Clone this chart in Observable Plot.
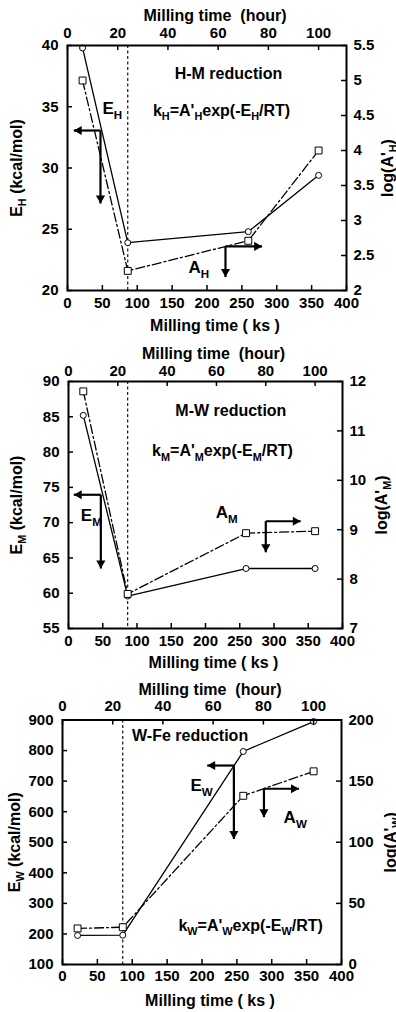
<!DOCTYPE html>
<html><head><meta charset="utf-8">
<script src="https://cdn.jsdelivr.net/npm/d3@7"></script>
<script src="https://cdn.jsdelivr.net/npm/@observablehq/plot@0.6"></script>
<style>
html,body{margin:0;padding:0;background:#fff;}
#wrap{position:relative;width:396px;height:1012px;overflow:hidden;background:#fff;}
.panel{position:absolute;left:0;}
svg{display:block;}
</style></head><body><div id="wrap"></div>
<script>
// ---- data ----
const ks = [21.6, 86.4, 259.2, 360];          // milling time (ks) = 6, 24, 72, 100 h
const cutKs = 86.4;                              // 24 h
const ksTicks = [0, 50, 100, 150, 200, 250, 300, 350, 400];
const hourTicks = [0, 20, 40, 60, 80, 100];

const E_H = [39.8, 23.9, 24.8, 29.4];
const A_H = [5.0, 2.28, 2.71, 4.0];
const E_M = [85.2, 59.6, 63.5, 63.5];
const A_M = [11.8, 7.7, 8.93, 8.97];
const E_W = [195, 196, 797, 895];
const A_W = [29.5, 30.5, 138, 158];

const leftTicksH = [20, 25, 30, 35, 40];
const rightTicksH = [2, 2.5, 3, 3.5, 4, 4.5, 5, 5.5];
const leftTicksM = [55, 60, 65, 70, 75, 80, 85, 90];
const rightTicksM = [7, 8, 9, 10, 11, 12];
const leftTicksW = [100, 200, 300, 400, 500, 600, 700, 800, 900];
const rightTicksW = [0, 50, 100, 150, 200];

// annotations (in left-axis data units)
const arrowsH = [{cx: 47.3, cy: 33.06, hx: 9.0, hdir: "left", vy: 27.1},
                 {cx: 226.5, cy: 23.6, hx: 279, hdir: "right", vy: 21.1}];
const labelsH = [{x: 50, y: 34.86, text: "E_{H}", anchor: "start", size: 17},
                 {x: 173.5, y: 21.9, text: "A_{H}", anchor: "start", size: 17},
                 {x: 230.8, y: 37.7, text: "H-M reduction", anchor: "middle", size: 16},
                 {x: 220.8, y: 34.7, text: "k_{H}=A'_{H}exp(-E_{H}/RT)", anchor: "middle", size: 16}];
const arrowsM = [{cx: 47.2, cy: 73.95, hx: 7.7, hdir: "left", vy: 63.5},
                 {cx: 288, cy: 70.2, hx: 339, hdir: "right", vy: 65.8}];
const labelsM = [{x: 18, y: 71.0, text: "E_{M}", anchor: "start", size: 17},
                 {x: 215, y: 71.5, text: "A_{M}", anchor: "start", size: 17},
                 {x: 237, y: 85.9, text: "M-W reduction", anchor: "middle", size: 16},
                 {x: 224.8, y: 80.2, text: "k_{M}=A'_{M}exp(-E_{M}/RT)", anchor: "middle", size: 16}];
const arrowsW = [{cx: 245.7, cy: 751, hx: 207.5, hdir: "left", vy: 511},
                 {cx: 288.8, cy: 675, hx: 339, hdir: "right", vy: 582}];
const labelsW = [{x: 183.5, y: 686, text: "E_{W}", anchor: "start", size: 17},
                 {x: 317, y: 581, text: "A_{W}", anchor: "start", size: 17},
                 {x: 99.7, y: 849, text: "W-Fe reduction", anchor: "start", size: 16},
                 {x: 269.7, y: 227.6, text: "k_{W}=A'_{W}exp(-E_{W}/RT)", anchor: "middle", size: 16}];

const panels = [
  {top: 0, height: 336, ml: 67, mr: 50, mt: 45, mb: 46, lDom: [20, 40], rDom: [2, 5.5],
   lTicks: leftTicksH, rTicks: rightTicksH, E: E_H, A: A_H, arrows: arrowsH, labels: labelsH,
   yLabel: "E_{H} (kcal/mol)", rLabel: "log(A'_{H})", tPad: 7.7, bPad: 6.4, tTitle: -30, bTitle: 35,
   lTitle: -51, rTitle: 41},
  {top: 338, height: 337, ml: 68, mr: 54, mt: 43, mb: 47, lDom: [55, 90], rDom: [7, 12],
   lTicks: leftTicksM, rTicks: rightTicksM, E: E_M, A: A_M, arrows: arrowsM, labels: labelsM,
   yLabel: "E_{M} (kcal/mol)", rLabel: "log(A'_{M})", tPad: 5.7, bPad: 6.7, tTitle: -28, bTitle: 34,
   lTitle: -52, rTitle: 39},
  {top: 675, height: 337, ml: 62, mr: 55, mt: 44.5, mb: 48, lDom: [100, 900], rDom: [0, 200],
   lTicks: leftTicksW, rTicks: rightTicksW, E: E_W, A: A_W, arrows: arrowsW, labels: labelsW,
   yLabel: "E_{W} (kcal/mol)", rLabel: "log(A'_{W})", tPad: 9.2, bPad: 5.7, tTitle: -30.5, bTitle: 36,
   lTitle: -48, rTitle: 49}
];

function subscripts(svg) {
  d3.select(svg).selectAll("text").each(function () {
    const s = this.textContent;
    if (!s.includes("_{")) return;
    const el = d3.select(this);
    el.text(null);
    const re = /_\{([^}]*)\}/g;
    let last = 0, m, shifted = false;
    while ((m = re.exec(s))) {
      const pre = s.slice(last, m.index);
      if (pre) { const t = el.append("tspan").text(pre); if (shifted) { t.attr("dy", "-0.3em"); shifted = false; } }
      el.append("tspan").attr("font-size", "68%").attr("dy", shifted ? null : "0.44em").text(m[1]);
      shifted = true;
      last = re.lastIndex;
    }
    const rest = s.slice(last);
    if (rest) { const t = el.append("tspan").text(rest); if (shifted) t.attr("dy", "-0.3em"); }
  });
}

const wrap = document.getElementById("wrap");
for (const cfg of panels) {
  const toL = v => cfg.lDom[0] + (v - cfg.rDom[0]) / (cfg.rDom[1] - cfg.rDom[0]) * (cfg.lDom[1] - cfg.lDom[0]);
  const fromL = d => cfg.rDom[0] + (d - cfg.lDom[0]) / (cfg.lDom[1] - cfg.lDom[0]) * (cfg.rDom[1] - cfg.rDom[0]);
  const width = 396;
  const iw = width - cfg.ml - cfg.mr, ih = cfg.height - cfg.mt - cfg.mb;
  const E = ks.map((x, i) => ({x, y: cfg.E[i]}));
  const A = ks.map((x, i) => ({x, y: toL(cfg.A[i])}));
  const shafts = cfg.arrows.flatMap(a => [{x1: a.cx, y1: a.cy, x2: a.hx, y2: a.cy}, {x1: a.cx, y1: a.cy, x2: a.cx, y2: a.vy}]);
  const headsL = cfg.arrows.filter(a => a.hdir === "left").map(a => ({x: a.hx, y: a.cy}));
  const headsR = cfg.arrows.filter(a => a.hdir === "right").map(a => ({x: a.hx, y: a.cy}));
  const headsD = cfg.arrows.map(a => ({x: a.cx, y: a.vy}));
  const hr = 3.4, off = 2 * Math.sqrt(Math.PI * hr * hr / (Math.sqrt(3) * 3));
  const svg = Plot.plot({
    width, height: cfg.height,
    marginLeft: cfg.ml, marginRight: cfg.mr, marginTop: cfg.mt, marginBottom: cfg.mb,
    style: {fontFamily: "'Liberation Sans', Arial, sans-serif", fontWeight: "bold", fontSize: "15px", background: "white", overflow: "visible", color: "black"},
    x: {domain: [0, 400], axis: null},
    y: {domain: cfg.lDom, axis: null},
    marks: [
      Plot.ruleX([cutKs], {x: d => d, strokeDasharray: "3,2.5", strokeWidth: 1.1}),
      Plot.line(A, {x: "x", y: "y", strokeDasharray: "9,3,2,3", strokeWidth: 1.3}),
      Plot.line(E, {x: "x", y: "y", strokeWidth: 1.3}),
      Plot.dot(E, {x: "x", y: "y", r: 3, stroke: "black", fill: "white", strokeWidth: 1}),
      Plot.dot(A, {x: "x", y: "y", symbol: "square", r: 3.9, stroke: "black", fill: "white", strokeWidth: 1}),
      Plot.link(shafts, {x1: "x1", y1: "y1", x2: "x2", y2: "y2", strokeWidth: 2.2}),
      Plot.dot(headsL, {x: "x", y: "y", symbol: "triangle", rotate: -90, r: hr, fill: "black", dx: off}),
      Plot.dot(headsR, {x: "x", y: "y", symbol: "triangle", rotate: 90, r: hr, fill: "black", dx: -off}),
      Plot.dot(headsD, {x: "x", y: "y", symbol: "triangle", rotate: 180, r: hr, fill: "black", dy: -off}),
      Plot.frame({strokeWidth: 2}),
      Plot.ruleX(ksTicks, {x: d => d, insetTop: ih - 5, strokeWidth: 1.5}),
      Plot.ruleX(hourTicks.map(h => h * 3.6), {x: d => d, insetBottom: ih - 5, strokeWidth: 1.5}),
      Plot.ruleY(cfg.lTicks, {y: d => d, insetRight: iw - 5, strokeWidth: 1.5}),
      Plot.ruleY(cfg.rTicks.map(toL), {y: d => d, insetLeft: iw - 5, strokeWidth: 1.5}),
      Plot.axisX(ksTicks, {anchor: "bottom", tickSize: 0, tickPadding: cfg.bPad, fontSize: 15, label: null}),
      Plot.axisX(hourTicks.map(h => h * 3.6), {anchor: "top", tickSize: 0, tickPadding: cfg.tPad, fontSize: 15, label: null,
        tickFormat: d => String(Math.round(d / 3.6))}),
      Plot.axisY(cfg.lTicks, {anchor: "left", tickSize: 0, tickPadding: 9, fontSize: 15, label: null}),
      Plot.axisY(cfg.rTicks.map(toL), {anchor: "right", tickSize: 0, tickPadding: 7, fontSize: 15, label: null,
        tickFormat: d => String(Math.round(fromL(d) * 100) / 100)}),
      Plot.text(["Milling time  (hour)"], {frameAnchor: "top", lineAnchor: "middle", textAnchor: "middle", dy: cfg.tTitle, dx: 8, text: d => d, fontSize: 16}),
      Plot.text(["Milling time ( ks )"], {frameAnchor: "bottom", lineAnchor: "middle", textAnchor: "middle", dy: cfg.bTitle, dx: 8, text: d => d, fontSize: 16}),
      Plot.text([cfg.yLabel], {frameAnchor: "left", lineAnchor: "middle", textAnchor: "middle", dx: cfg.lTitle, rotate: -90, text: d => d, fontSize: 16}),
      Plot.text([cfg.rLabel], {frameAnchor: "right", lineAnchor: "middle", textAnchor: "middle", dx: cfg.rTitle, rotate: -90, text: d => d, fontSize: 16}),
      ...cfg.labels.map(l => Plot.text([l], {x: "x", y: "y", text: "text", textAnchor: l.anchor, lineAnchor: "middle", fontSize: l.size}))
    ]
  });
  subscripts(svg);
  const div = document.createElement("div");
  div.className = "panel";
  div.style.top = cfg.top + "px";
  div.appendChild(svg);
  wrap.appendChild(div);
}
</script></body></html>
